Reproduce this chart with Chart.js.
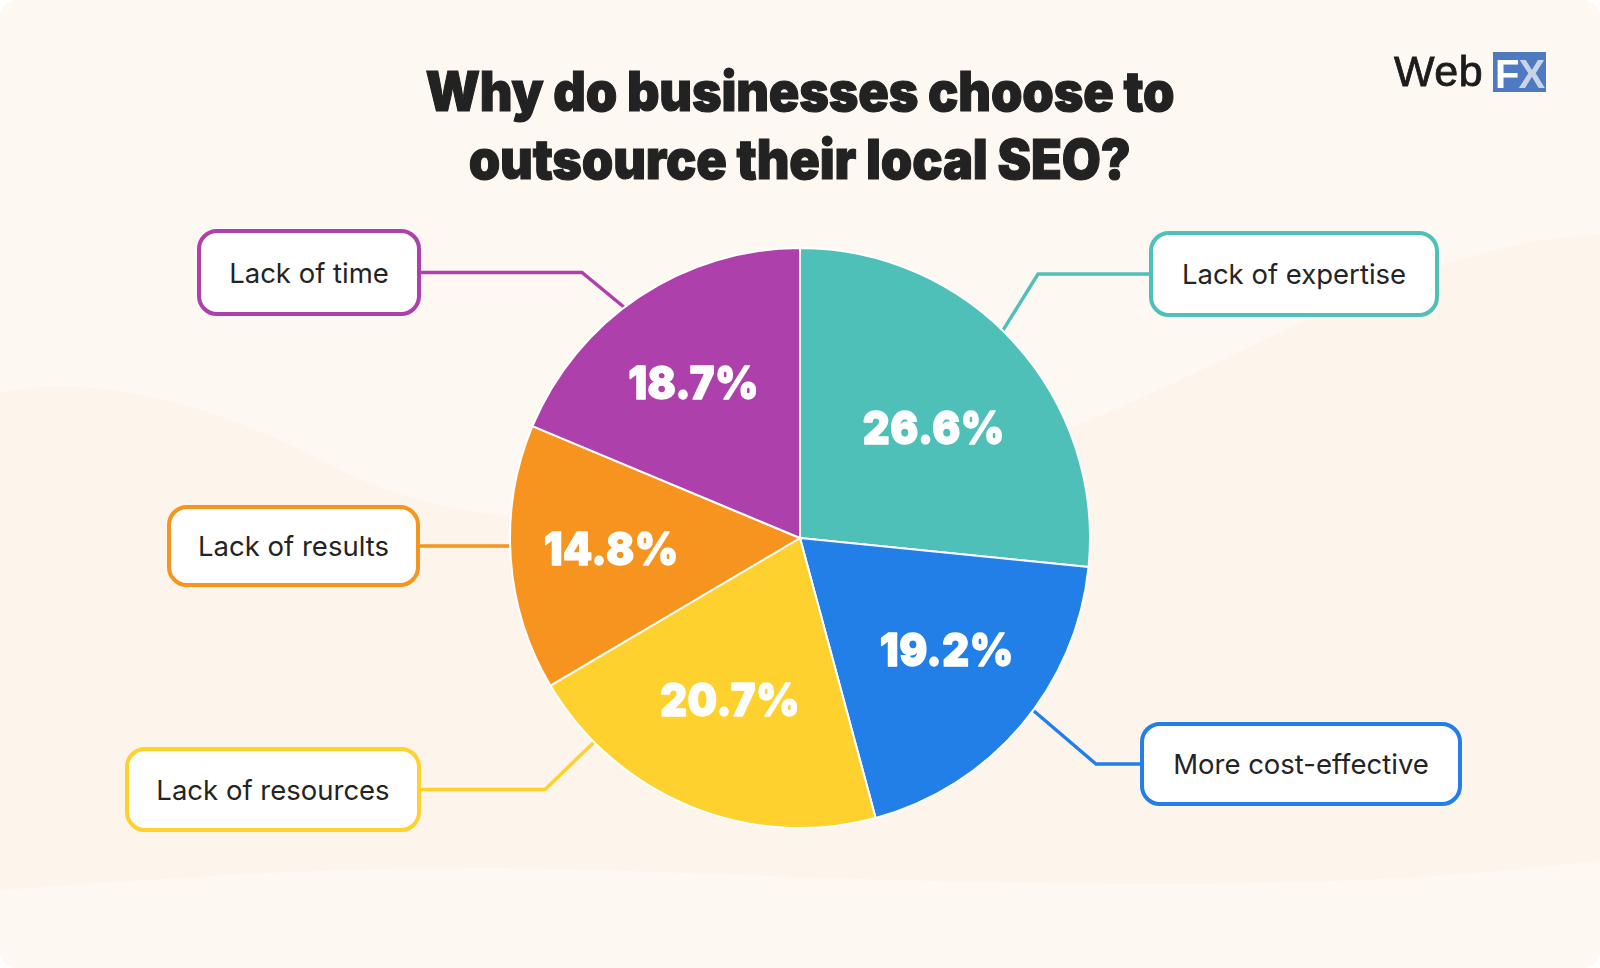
<!DOCTYPE html>
<html>
<head>
<meta charset="utf-8">
<script src="https://cdn.jsdelivr.net/npm/chart.js@4.4.1/dist/chart.umd.min.js"></script>
<style>
  html, body { margin:0; padding:0; background:#ffffff; width:1600px; height:968px; overflow:hidden; }
  #wrap { position:relative; width:1600px; height:968px; }
  #chart { position:absolute; left:0; top:0; }
  .title { position:absolute; left:0; width:1600px; text-align:center; font-family:Inter, "Noto Sans", sans-serif;
           font-weight:900; font-size:55px; line-height:55px; color:#222222; white-space:nowrap;
           -webkit-text-stroke:1.1px #222222; }
  .title span { display:inline-block; letter-spacing:-0.2px; transform-origin:50% 50%; }
  .box { position:absolute; box-sizing:border-box; border:4px solid; border-radius:20px; background:#ffffff;
         display:flex; align-items:center; justify-content:center; font-family:Inter, "Noto Sans", sans-serif;
         font-size:27.5px; color:#242424; white-space:nowrap; }
  #logo { position:absolute; left:1394px; top:46px; height:50px; font-family:"Liberation Sans", Arial, sans-serif; }
  #logoWeb { position:absolute; left:0; top:0; font-size:43px; line-height:50px; color:#1c1c1c; letter-spacing:0.5px;
             -webkit-text-stroke:0.8px #1c1c1c; }
  #logoFX { position:absolute; left:99px; top:6px; width:53px; height:40px; background:#4f7ac2;
            font-size:40px; font-weight:bold; line-height:44px; color:#fff; text-align:center; letter-spacing:-1px; }
  #logoFX .x { color:#c9d5e6; }
</style>
</head>
<body>
<div id="wrap">
  <canvas id="chart" width="1600" height="968"></canvas>
  <div class="title" id="t1" style="top:64px;"><span></span></div>
  <div class="title" id="t2" style="top:132px;"><span></span></div>
  <div id="logo"><div id="logoWeb">Web</div><div id="logoFX">F<span class="x">X</span></div></div>
</div>
<script>
// ---- data ----
const categories = ['Lack of expertise', 'More cost-effective', 'Lack of resources', 'Lack of results', 'Lack of time'];
const values = [26.6, 19.2, 20.7, 14.8, 18.7];
const sliceColors = ['#4fc0b8', '#237fe8', '#fed12e', '#f6941f', '#ae40ac'];
const titleLines = ['Why do businesses choose to', 'outsource their local SEO?'];

// ---- layout (positions only) ----
const boxRects = [
  {x:1149, y:231, w:290, h:86},
  {x:1140, y:722, w:322, h:84},
  {x:125,  y:747, w:296, h:85},
  {x:167,  y:505, w:253, h:82},
  {x:197,  y:229, w:224, h:87}
];
const boxSide = ['left', 'left', 'right', 'right', 'right'];
const elbowX = [1038, 1096, 545, null, 582];
const anchorFrac = [0.466, 0.443, 0.81, 0.54, 0.45];
const labelAngleFrac = [0.526, 0.456, 0.518, 0.512, 0.489];
const labelRadiusFrac = [0.598, 0.635, 0.607, 0.653, 0.651];
const titleWidths = [749, 662];

// build boxes
const wrap = document.getElementById('wrap');
categories.forEach((c, i) => {
  const r = boxRects[i];
  const d = document.createElement('div');
  d.className = 'box';
  d.style.left = r.x + 'px'; d.style.top = r.y + 'px';
  d.style.width = r.w + 'px'; d.style.height = r.h + 'px';
  d.style.borderColor = sliceColors[i];
  d.textContent = c;
  wrap.appendChild(d);
});

function roundRect(ctx, x, y, w, h, r) {
  ctx.beginPath();
  ctx.moveTo(x + r, y);
  ctx.arcTo(x + w, y, x + w, y + h, r);
  ctx.arcTo(x + w, y + h, x, y + h, r);
  ctx.arcTo(x, y + h, x, y, r);
  ctx.arcTo(x, y, x + w, y, r);
  ctx.closePath();
}

const backgroundPlugin = {
  id: 'cardBackground',
  beforeDraw(chart) {
    const ctx = chart.ctx;
    const W = chart.width, H = chart.height;
    ctx.save();
    roundRect(ctx, 0, 0, W, H, 16);
    ctx.fillStyle = '#fef8f2';
    ctx.fill();
    ctx.clip();
    ctx.beginPath();
    ctx.moveTo(0, 392);
    ctx.bezierCurveTo(110, 372, 230, 410, 340, 470);
    ctx.bezierCurveTo(520, 560, 820, 520, 1040, 440);
    ctx.bezierCurveTo(1250, 360, 1420, 240, 1600, 235);
    ctx.lineTo(1600, 860);
    ctx.bezierCurveTo(1300, 900, 900, 880, 600, 870);
    ctx.bezierCurveTo(350, 862, 150, 880, 0, 890);
    ctx.closePath();
    ctx.fillStyle = '#fdf4eb';
    ctx.fill();
    ctx.restore();
  }
};

const calloutPlugin = {
  id: 'callouts',
  beforeDatasetsDraw(chart) {
    const ctx = chart.ctx;
    const meta = chart.getDatasetMeta(0);
    ctx.save();
    ctx.lineWidth = 3.4;
    ctx.lineJoin = 'miter';
    meta.data.forEach((arc, i) => {
      const p = arc.getProps(['x', 'y', 'startAngle', 'endAngle', 'outerRadius'], true);
      const a = p.startAngle + anchorFrac[i] * (p.endAngle - p.startAngle);
      const r = boxRects[i];
      const sx = boxSide[i] === 'left' ? r.x + 2 : r.x + r.w - 2;
      const sy = r.y + r.h / 2;
      const ex = p.x + Math.cos(a) * (p.outerRadius - 6);
      let ey = p.y + Math.sin(a) * (p.outerRadius - 6);
      ctx.beginPath();
      ctx.moveTo(sx, sy);
      if (elbowX[i] !== null) ctx.lineTo(elbowX[i], sy); else ey = sy;
      ctx.lineTo(ex, ey);
      ctx.strokeStyle = sliceColors[i];
      ctx.stroke();
    });
    ctx.restore();
  },
  afterDatasetsDraw(chart) {
    const ctx = chart.ctx;
    const meta = chart.getDatasetMeta(0);
    const size = 45;
    ctx.save();
    ctx.font = '900 ' + size + 'px Inter, "Noto Sans", sans-serif';
    ctx.fillStyle = '#ffffff';
    ctx.strokeStyle = '#ffffff';
    ctx.lineWidth = 1.3;
    ctx.lineJoin = 'round';
    ctx.textAlign = 'center';
    ctx.textBaseline = 'alphabetic';
    const ls = 0.5;
    ctx.letterSpacing = ls + 'px';
    const natural = ctx.measureText('26.6%').width;
    const sx = Math.min(1, 142 / natural);
    meta.data.forEach((arc, i) => {
      const p = arc.getProps(['x', 'y', 'startAngle', 'endAngle', 'outerRadius'], true);
      const a = p.startAngle + labelAngleFrac[i] * (p.endAngle - p.startAngle);
      const rr = p.outerRadius * labelRadiusFrac[i];
      const tx = p.x + Math.cos(a) * rr + ls / 2;
      const ty = p.y + Math.sin(a) * rr + size * 0.364;
      const txt = values[i].toFixed(1) + '%';
      ctx.save();
      ctx.translate(tx, ty);
      ctx.scale(sx, 1);
      ctx.strokeText(txt, 0, 0);
      ctx.fillText(txt, 0, 0);
      ctx.restore();
    });
    ctx.restore();
  }
};

function fitTitle() {
  ['t1', 't2'].forEach((id, i) => {
    const span = document.querySelector('#' + id + ' span');
    span.textContent = titleLines[i];
    const w = span.getBoundingClientRect().width;
    span.style.transform = 'scaleX(' + (titleWidths[i] / w).toFixed(4) + ')';
  });
}

function build() {
  fitTitle();
  new Chart(document.getElementById('chart'), {
    type: 'pie',
    data: {
      labels: categories,
      datasets: [{
        data: values,
        backgroundColor: sliceColors,
        borderColor: '#ffffff',
        borderWidth: 2,
        hoverOffset: 0
      }]
    },
    options: {
      responsive: false,
      animation: false,
      layout: { padding: { top: 247, bottom: 139, left: 300, right: 300 } },
      plugins: { legend: { display: false }, tooltip: { enabled: false }, title: { display: false } },
      events: []
    },
    plugins: [backgroundPlugin, calloutPlugin]
  });
}
if (document.fonts && document.fonts.load) {
  Promise.all([
    document.fonts.load('900 55px Inter'),
    document.fonts.load('900 45px Inter'),
    document.fonts.load('27px Inter')
  ]).then(build, build);
} else { build(); }
</script>
</body>
</html>
